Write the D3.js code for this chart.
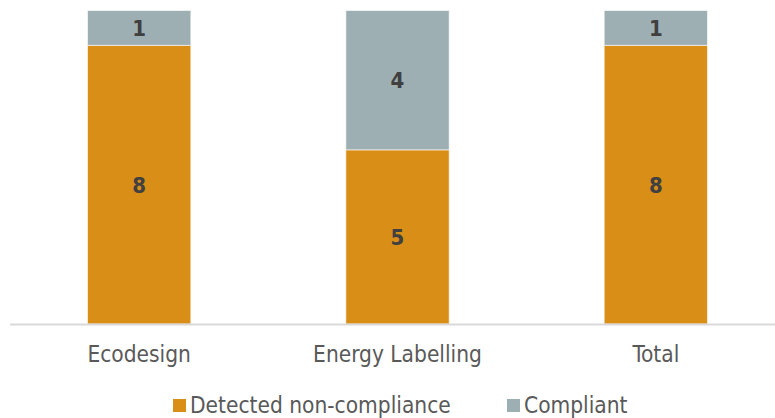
<!DOCTYPE html>
<html>
<head>
<meta charset="utf-8">
<style>
  body { margin: 0; background: #fff; }
  svg text { font-family: "DejaVu Sans Condensed", "DejaVu Sans", sans-serif; }
</style>
</head>
<body>
<div id="container"></div>
<script src="https://cdn.jsdelivr.net/npm/d3@7"></script>
<script>
// chart data
const categories = ["Ecodesign", "Energy Labelling", "Total"];
const seriesNames = ["Detected non-compliance", "Compliant"];
const nonCompliance = [8, 5, 8];
const compliant = [1, 4, 1];
const colors = ["#D98E17", "#9EAFB4"];

const width = 775, height = 418;

const svg = d3.select("#container")
    .append("svg")
    .attr("width", width)
    .attr("height", height);

const rows = categories.map((c, i) => ({
    cat: c,
    [seriesNames[0]]: nonCompliance[i],
    [seriesNames[1]]: compliant[i]
}));

const stack = d3.stack().keys(seriesNames);
const series = stack(rows);

const x = d3.scaleBand()
    .domain(categories)
    .range([10, 785])
    .paddingInner(0.6)
    .paddingOuter(0.3);

const y = d3.scaleLinear()
    .domain([0, 9])
    .range([324, 10.5]);

// bars
const groups = svg.append("g")
    .selectAll("g")
    .data(series)
    .join("g")
    .attr("fill", (d, i) => colors[i]);

groups.selectAll("rect")
    .data(d => d)
    .join("rect")
    .attr("x", d => x(d.data.cat))
    .attr("y", d => y(d[1]))
    .attr("width", x.bandwidth())
    .attr("height", d => y(d[0]) - y(d[1]))
    .attr("stroke", "rgba(255,255,255,0.6)")
    .attr("stroke-width", 1);

// value labels
groups.selectAll("text")
    .data(d => d)
    .join("text")
    .attr("x", d => x(d.data.cat) + x.bandwidth() / 2)
    .attr("y", d => (y(d[0]) + y(d[1])) / 2)
    .attr("dy", "0.36em")
    .attr("text-anchor", "middle")
    .attr("font-size", 22)
    .attr("font-weight", "bold")
    .attr("fill", "#404040")
    .text(d => d[1] - d[0]);

// x axis line
svg.append("line")
    .attr("x1", 10)
    .attr("x2", 775)
    .attr("y1", 324.5)
    .attr("y2", 324.5)
    .attr("stroke", "#d9d9d9")
    .attr("stroke-width", 2);

// category labels
svg.append("g")
    .selectAll("text")
    .data(categories)
    .join("text")
    .attr("x", d => x(d) + x.bandwidth() / 2)
    .attr("y", 362)
    .attr("text-anchor", "middle")
    .attr("font-size", 22.5)
    .attr("fill", "#595959")
    .text(d => d);

// legend
const legendItems = [
    { name: seriesNames[0], color: colors[0], x: 173 },
    { name: seriesNames[1], color: colors[1], x: 507 }
];
const legend = svg.append("g")
    .selectAll("g")
    .data(legendItems)
    .join("g")
    .attr("transform", d => `translate(${d.x},0)`);

legend.append("rect")
    .attr("x", 0)
    .attr("y", 399)
    .attr("width", 13)
    .attr("height", 13)
    .attr("fill", d => d.color);

legend.append("text")
    .attr("x", 17)
    .attr("y", 413)
    .attr("font-size", 22.5)
    .attr("fill", "#595959")
    .text(d => d.name);
</script>
</body>
</html>
